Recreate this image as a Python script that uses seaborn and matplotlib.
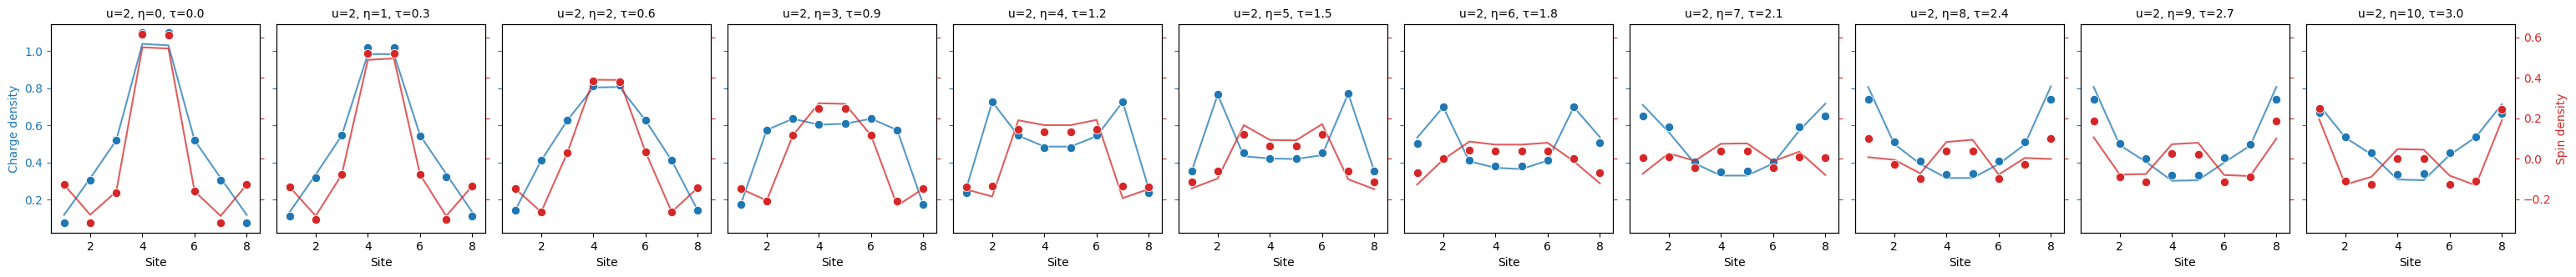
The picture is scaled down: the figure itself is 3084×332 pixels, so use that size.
import matplotlib
matplotlib.use("Agg")
import matplotlib.pyplot as plt
import seaborn as sns
import numpy as np

sites = [1, 2, 3, 4, 5, 6, 7, 8]
etas = [0, 1, 2, 3, 4, 5, 6, 7, 8, 9, 10]
taus = [0.0, 0.3, 0.6, 0.9, 1.2, 1.5, 1.8, 2.1, 2.4, 2.7, 3.0]
u_val = 2

# measured charge density per site (dots)
charge_meas = [
    [0.074, 0.306, 0.519, 1.099, 1.099, 0.519, 0.306, 0.074],
    [0.110, 0.317, 0.546, 1.019, 1.019, 0.542, 0.321, 0.110],
    [0.142, 0.411, 0.627, 0.811, 0.819, 0.627, 0.411, 0.142],
    [0.173, 0.575, 0.636, 0.604, 0.609, 0.636, 0.575, 0.173],
    [0.237, 0.727, 0.549, 0.479, 0.479, 0.549, 0.727, 0.237],
    [0.353, 0.766, 0.452, 0.420, 0.420, 0.452, 0.771, 0.353],
    [0.501, 0.699, 0.411, 0.380, 0.380, 0.411, 0.699, 0.505],
    [0.651, 0.591, 0.404, 0.348, 0.353, 0.404, 0.591, 0.651],
    [0.741, 0.510, 0.407, 0.336, 0.339, 0.407, 0.510, 0.741],
    [0.741, 0.501, 0.420, 0.332, 0.332, 0.425, 0.497, 0.741],
    [0.669, 0.537, 0.451, 0.335, 0.339, 0.451, 0.537, 0.664],
]

# model charge density per site (lines)
charge_model = [
    [0.118, 0.315, 0.520, 1.039, 1.031, 0.520, 0.317, 0.118],
    [0.133, 0.335, 0.546, 0.984, 0.984, 0.546, 0.339, 0.133],
    [0.142, 0.411, 0.627, 0.804, 0.807, 0.627, 0.411, 0.142],
    [0.173, 0.575, 0.636, 0.604, 0.609, 0.636, 0.575, 0.173],
    [0.257, 0.727, 0.545, 0.486, 0.486, 0.542, 0.727, 0.257],
    [0.353, 0.766, 0.434, 0.422, 0.419, 0.440, 0.771, 0.353],
    [0.534, 0.699, 0.407, 0.372, 0.365, 0.411, 0.699, 0.537],
    [0.711, 0.564, 0.395, 0.330, 0.330, 0.395, 0.572, 0.717],
    [0.807, 0.500, 0.392, 0.317, 0.317, 0.392, 0.497, 0.810],
    [0.807, 0.494, 0.404, 0.302, 0.305, 0.400, 0.492, 0.807],
    [0.709, 0.535, 0.444, 0.309, 0.305, 0.441, 0.537, 0.714],
]

# measured spin density per site (dots)
spin_meas = [
    [-0.127, -0.315, -0.166, 0.614, 0.610, -0.160, -0.315, -0.127],
    [-0.138, -0.299, -0.078, 0.520, 0.520, -0.078, -0.299, -0.134],
    [-0.147, -0.262, 0.029, 0.385, 0.382, 0.033, -0.262, -0.143],
    [-0.147, -0.209, 0.115, 0.247, 0.247, 0.115, -0.209, -0.147],
    [-0.138, -0.134, 0.147, 0.132, 0.132, 0.147, -0.134, -0.138],
    [-0.115, -0.061, 0.119, 0.065, 0.065, 0.119, -0.061, -0.115],
    [-0.070, 0.000, 0.041, 0.038, 0.038, 0.038, 0.000, -0.070],
    [0.004, 0.008, -0.045, 0.038, 0.038, -0.045, 0.008, 0.004],
    [0.100, -0.029, -0.098, 0.038, 0.038, -0.098, -0.029, 0.100],
    [0.188, -0.090, -0.115, 0.026, 0.022, -0.115, -0.090, 0.188],
    [0.247, -0.111, -0.127, 0.000, 0.000, -0.127, -0.111, 0.243],
]

# model spin density per site (lines)
spin_model = [
    [-0.127, -0.276, -0.162, 0.550, 0.544, -0.160, -0.282, -0.127],
    [-0.138, -0.282, -0.078, 0.488, 0.495, -0.078, -0.282, -0.134],
    [-0.147, -0.262, 0.029, 0.390, 0.389, 0.033, -0.262, -0.143],
    [-0.147, -0.206, 0.115, 0.274, 0.271, 0.115, -0.231, -0.147],
    [-0.151, -0.186, 0.190, 0.166, 0.166, 0.192, -0.194, -0.149],
    [-0.146, -0.097, 0.166, 0.093, 0.091, 0.171, -0.101, -0.150],
    [-0.127, -0.004, 0.085, 0.070, 0.070, 0.079, -0.012, -0.121],
    [-0.074, 0.027, -0.010, 0.074, 0.076, -0.012, 0.035, -0.080],
    [0.008, -0.005, -0.072, 0.083, 0.094, -0.078, 0.004, -0.001],
    [0.106, -0.078, -0.075, 0.072, 0.079, -0.080, -0.085, 0.100],
    [0.195, -0.127, -0.089, 0.048, 0.045, -0.083, -0.131, 0.190],
]

blue = "#1f77b4"
red = "#d62728"

fig, axes = plt.subplots(1, len(etas), figsize=(30.84, 3.32), dpi=100)
fig.subplots_adjust(left=0.0198, right=0.9763, top=0.9127, bottom=0.1596, wspace=0.08)

n = len(etas)
for i, ax in enumerate(axes):
    ax2 = ax.twinx()

    sns.lineplot(x=sites, y=charge_model[i], ax=ax, color=blue, alpha=0.75, lw=1.5)
    sns.scatterplot(x=sites, y=charge_meas[i], ax=ax, color=blue, s=55, zorder=3)
    sns.lineplot(x=sites, y=spin_model[i], ax=ax2, color=red, alpha=0.75, lw=1.5)
    sns.scatterplot(x=sites, y=spin_meas[i], ax=ax2, color=red, s=55, zorder=3)

    ax.set_xlim(0.5, 8.5)
    ax.set_ylim(0.022, 1.145)
    ax2.set_ylim(-0.365, 0.664)
    ax.set_xticks([2, 4, 6, 8])
    ax.set_yticks([0.2, 0.4, 0.6, 0.8, 1.0])
    ax2.set_yticks([-0.2, 0.0, 0.2, 0.4, 0.6])
    ax.tick_params(axis="y", colors=blue)
    ax2.tick_params(axis="y", colors=red)
    ax.set_xlabel("Site", fontsize=10)
    ax.set_title(f"u={u_val}, η={etas[i]}, τ={taus[i]:.1f}", fontsize=10)

    if i == 0:
        ax.set_ylabel("Charge density", color=blue, fontsize=10)
    else:
        ax.set_ylabel("")
        ax.tick_params(axis="y", labelleft=False)
    if i == n - 1:
        ax2.set_ylabel("Spin density", color=red, fontsize=10)
    else:
        ax2.set_ylabel("")
        ax2.tick_params(axis="y", labelright=False)

fig.savefig("out.png", dpi=100)
